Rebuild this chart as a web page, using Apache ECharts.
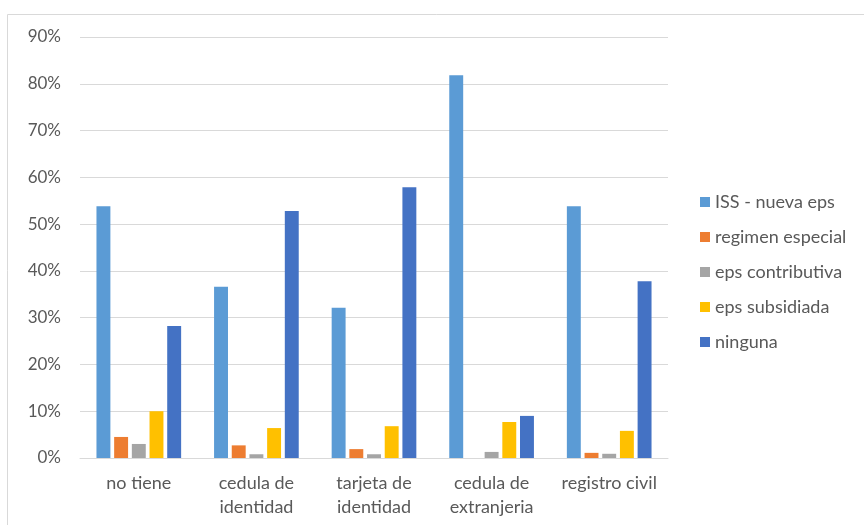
<!DOCTYPE html>
<html><head><meta charset="utf-8">
<script src="https://cdn.jsdelivr.net/npm/echarts@6/dist/echarts.min.js"></script>
<style>html,body{margin:0;padding:0;background:#fff}#c{width:864px;height:525px}</style>
</head><body><div id="c"></div>
<script>
const categories = ['no tiene', 'cedula de\nidentidad', 'tarjeta de\nidentidad', 'cedula de\nextranjeria', 'registro civil'];
const seriesNames = ['ISS - nueva eps', 'regimen especial', 'eps contributiva', 'eps subsidiada', 'ninguna'];
const issNuevaEps = [0.538, 0.366, 0.321, 0.818, 0.538];
const regimenEspecial = [0.045, 0.027, 0.019, 0.0, 0.011];
const epsContributiva = [0.030, 0.008, 0.008, 0.013, 0.009];
const epsSubsidiada = [0.100, 0.064, 0.068, 0.077, 0.058];
const ninguna = [0.282, 0.528, 0.579, 0.090, 0.378];
const yTicks = [0, 0.1, 0.2, 0.3, 0.4, 0.5, 0.6, 0.7, 0.8, 0.9];
const colors = ['#5B9BD5', '#ED7D31', '#A5A5A5', '#FFC000', '#4472C4'];
const values = [issNuevaEps, regimenEspecial, epsContributiva, epsSubsidiada, ninguna];

const chart = echarts.init(document.getElementById('c'));
const font = 'Lato, "Noto Sans", sans-serif';
chart.setOption({
  animation: false,
  color: colors,
  graphic: [{type: 'rect', shape: {x: 7.5, y: 14.5, width: 900, height: 600}, style: {fill: 'none', stroke: '#d9d9d9', lineWidth: 1}, silent: true}],
  grid: {left: 80, right: 196, top: 37, bottom: 67},
  legend: {
    orient: 'vertical', left: 700, top: 193, padding: 0, itemGap: 17, itemWidth: 10, itemHeight: 10,
    icon: 'rect', data: seriesNames,
    textStyle: {color: '#595959', fontSize: 18, lineHeight: 18, fontFamily: font}
  },
  xAxis: {
    type: 'category', data: categories,
    axisLine: {lineStyle: {color: '#d9d9d9', width: 1}},
    axisTick: {show: false},
    axisLabel: {color: '#595959', fontSize: 18, fontFamily: font, margin: 13, lineHeight: 24, interval: 0}
  },
  yAxis: {
    type: 'value', min: 0, max: 0.9, interval: 0.1,
    axisLine: {show: false}, axisTick: {show: false},
    splitLine: {lineStyle: {color: '#d9d9d9', width: 1}},
    axisLabel: {color: '#595959', fontSize: 17, fontFamily: font, margin: 19,
      formatter: v => { const t = yTicks.find(x => Math.abs(x - v) < 1e-9); return Math.round((t !== undefined ? t : v) * 100) + '%'; }}
  },
  series: seriesNames.map((n, i) => ({
    name: n, type: 'bar', data: values[i],
    barGap: '27%', barCategoryGap: '28%',
    itemStyle: {color: colors[i]}
  }))
});
</script></body></html>
